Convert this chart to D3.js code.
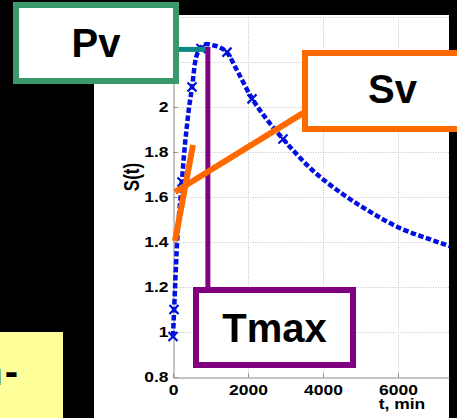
<!DOCTYPE html>
<html>
<head>
<meta charset="utf-8">
<script src="https://cdn.jsdelivr.net/npm/d3@7"></script>
<style>
  html, body { margin: 0; padding: 0; background: #000; }
  svg { display: block; }
  text { font-family: "Liberation Sans", Arial, sans-serif; font-weight: bold; }
</style>
</head>
<body>
<svg id="chart" width="457" height="418"></svg>
<script>
// Fitted curve S(t)
const curveT = [0, 30, 60, 110, 160, 215, 290, 360, 430, 510, 590, 680, 780, 900, 1050, 1250, 1450, 1700, 2100, 2500, 2950, 3650, 4550, 5250, 6050, 6800, 7400];
const curveS = [0.98, 1.10, 1.22, 1.40, 1.52, 1.62, 1.78, 1.90, 2.00, 2.09, 2.20, 2.25, 2.27, 2.28, 2.275, 2.265, 2.24, 2.165, 2.04, 1.945, 1.855, 1.73, 1.61, 1.535, 1.462, 1.415, 1.38];

// Measured points
const markerT = [0, 27, 240, 507, 747, 1440, 2107, 2933];
const markerS = [0.98, 1.10, 1.667, 2.089, 2.26, 2.244, 2.036, 1.858];

// Axis ticks
const xTicks = [0, 2000, 4000, 6000];
const xTickLabels = ["0", "2000", "4000", "6000"];
const yTicks = [0.8, 1.0, 1.2, 1.4, 1.6, 1.8, 2.0, 2.2, 2.4];
const yTickLabels = ["0.8", "1", "1.2", "1.4", "1.6", "1.8", "2", "2.2", "2.4"];

// Characteristic values
const tmax = 930;      // time of peak, min
const pv = 2.256;      // peak value
const pvLineStart = 160;
const tmaxLineTop = 2.267;
const tmaxLineBottom = 1.2;
// Tangent lines (Sv)
const svLineT = [3467, 53];
const svLineS = [1.973, 1.622];
const riseLineT = [533, 53];
const riseLineS = [1.831, 1.404];

const svg = d3.select("#chart");
const W = 457, H = 418;

// plot geometry
const plotL = 173, plotR = 449, plotT = 17, plotB = 377;
const x = d3.scaleLinear().domain([0, 7360]).range([plotL, plotR]);
const y = d3.scaleLinear().domain([0.8, 2.4]).range([plotB, plotT]);

svg.append("rect").attr("width", W).attr("height", H).attr("fill", "#000");
svg.append("rect").attr("x", 94).attr("y", 15).attr("width", plotR - 94).attr("height", H - 15).attr("fill", "#fff");

svg.append("clipPath").attr("id", "plotclip")
  .append("rect").attr("x", plotL - 6).attr("y", 10).attr("width", plotR - plotL + 6).attr("height", plotB - 5);

// grid
const grid = svg.append("g").attr("stroke", "#c4c4c4").attr("stroke-width", 1).attr("stroke-dasharray", "1,1.5");
grid.selectAll("line.gx").data(xTicks.slice(1)).join("line")
  .attr("x1", d => x(d) + 0.5).attr("x2", d => x(d) + 0.5)
  .attr("y1", plotT).attr("y2", plotB);
grid.selectAll("line.gy").data(yTicks.slice(1)).join("line")
  .attr("x1", plotL).attr("x2", plotR)
  .attr("y1", d => Math.round(y(d)) + 0.5).attr("y2", d => Math.round(y(d)) + 0.5);

// axes
const sx = 1.25; // horizontal stretch of tick text
const xAxis = svg.append("g").attr("transform", `translate(0,${plotB + 0.5})`)
  .call(d3.axisBottom(x).tickValues(xTicks).tickFormat((d, i) => xTickLabels[i]).tickSizeInner(-4).tickSizeOuter(0).tickPadding(8));
const yAxis = svg.append("g").attr("transform", `translate(${plotL + 0.5},0)`)
  .call(d3.axisLeft(y).tickValues(yTicks).tickFormat((d, i) => yTickLabels[i]).tickSizeInner(-4).tickSizeOuter(0).tickPadding(5));
[xAxis, yAxis].forEach(g => {
  g.select(".domain").attr("stroke", "#8a8a8a");
  g.selectAll(".tick line").attr("stroke", "#8a8a8a");
  g.selectAll(".tick text").attr("fill", "#000").attr("font-size", 14)
    .attr("font-family", "Liberation Sans, Arial, sans-serif").attr("font-weight", "bold");
});
xAxis.selectAll(".tick text").attr("transform", `scale(${sx},1)`);
yAxis.selectAll(".tick text").attr("transform", `scale(${sx},1)`).attr("x", -4).attr("dy", "0.35em");

// axis titles
svg.append("text").attr("transform", `translate(402,409) scale(${sx},1)`)
  .attr("text-anchor", "middle").attr("font-size", 14).attr("fill", "#000").text("t, min");
svg.append("text").attr("transform", `translate(139,177) scale(${sx},1) rotate(-90)`)
  .attr("text-anchor", "middle").attr("font-size", 17).attr("fill", "#000").text("S(t)");

// fitted curve
const curveData = curveT.map((t, i) => [t, curveS[i]]);
const line = d3.line().x(d => x(d[0])).y(d => y(d[1])).curve(d3.curveMonotoneX);
svg.append("path").attr("clip-path", "url(#plotclip)")
  .datum(curveData).attr("d", line)
  .attr("fill", "none").attr("stroke", "#0010e0").attr("stroke-width", 4.5)
  .attr("stroke-dasharray", "5.5,2.5");

// measured points (x markers)
const mk = svg.append("g").attr("stroke", "#0010d8").attr("stroke-width", 2.2);
const markerData = markerT.map((t, i) => [t, markerS[i]]);
mk.selectAll("path").data(markerData).join("path")
  .attr("d", d => {
    const cx = x(d[0]), cy = y(d[1]), r = 4.5;
    return `M${cx - r},${cy - r}L${cx + r},${cy + r}M${cx - r},${cy + r}L${cx + r},${cy - r}`;
  });

// Pv line (teal) and Tmax line (purple)
svg.append("line").attr("x1", x(pvLineStart)).attr("x2", x(tmax))
  .attr("y1", y(pv)).attr("y2", y(pv))
  .attr("stroke", "#078a85").attr("stroke-width", 5);
svg.append("line").attr("x1", x(tmax)).attr("x2", x(tmax))
  .attr("y1", y(tmaxLineTop)).attr("y2", y(tmaxLineBottom))
  .attr("stroke", "#800080").attr("stroke-width", 5);

// Sv tangent lines (orange)
svg.append("line").attr("x1", x(svLineT[0])).attr("y1", y(svLineS[0]))
  .attr("x2", x(svLineT[1])).attr("y2", y(svLineS[1]))
  .attr("stroke", "#ff6a00").attr("stroke-width", 6);
svg.append("line").attr("x1", x(riseLineT[0])).attr("y1", y(riseLineS[0]))
  .attr("x2", x(riseLineT[1])).attr("y2", y(riseLineS[1]))
  .attr("stroke", "#ff6a00").attr("stroke-width", 6);

// labelled callout boxes
function callout(bx, by, bw, bh, color, label, tx, ty) {
  svg.append("rect").attr("x", bx).attr("y", by).attr("width", bw).attr("height", bh)
    .attr("fill", "#fff").attr("stroke", color).attr("stroke-width", 6);
  svg.append("text").attr("x", tx).attr("y", ty).attr("text-anchor", "middle")
    .attr("font-size", 40).attr("fill", "#000").text(label);
}
callout(16, 5, 160, 76, "#3a996b", "Pv", 96, 57);
callout(305, 53, 170, 76, "#ff6a00", "Sv", 392.5, 103);
callout(196, 290, 157, 75, "#800080", "Tmax", 274.5, 342);

// yellow note, partly outside the frame
svg.append("rect").attr("x", -5).attr("y", 332).attr("width", 68).attr("height", 90).attr("fill", "#ffff99");
const note = svg.append("text").attr("x", 18).attr("y", 385).attr("text-anchor", "end")
  .attr("font-size", 40).attr("fill", "#000");
note.append("tspan").text("n");
note.append("tspan").attr("dx", 2).text("-");
</script>
</body>
</html>
